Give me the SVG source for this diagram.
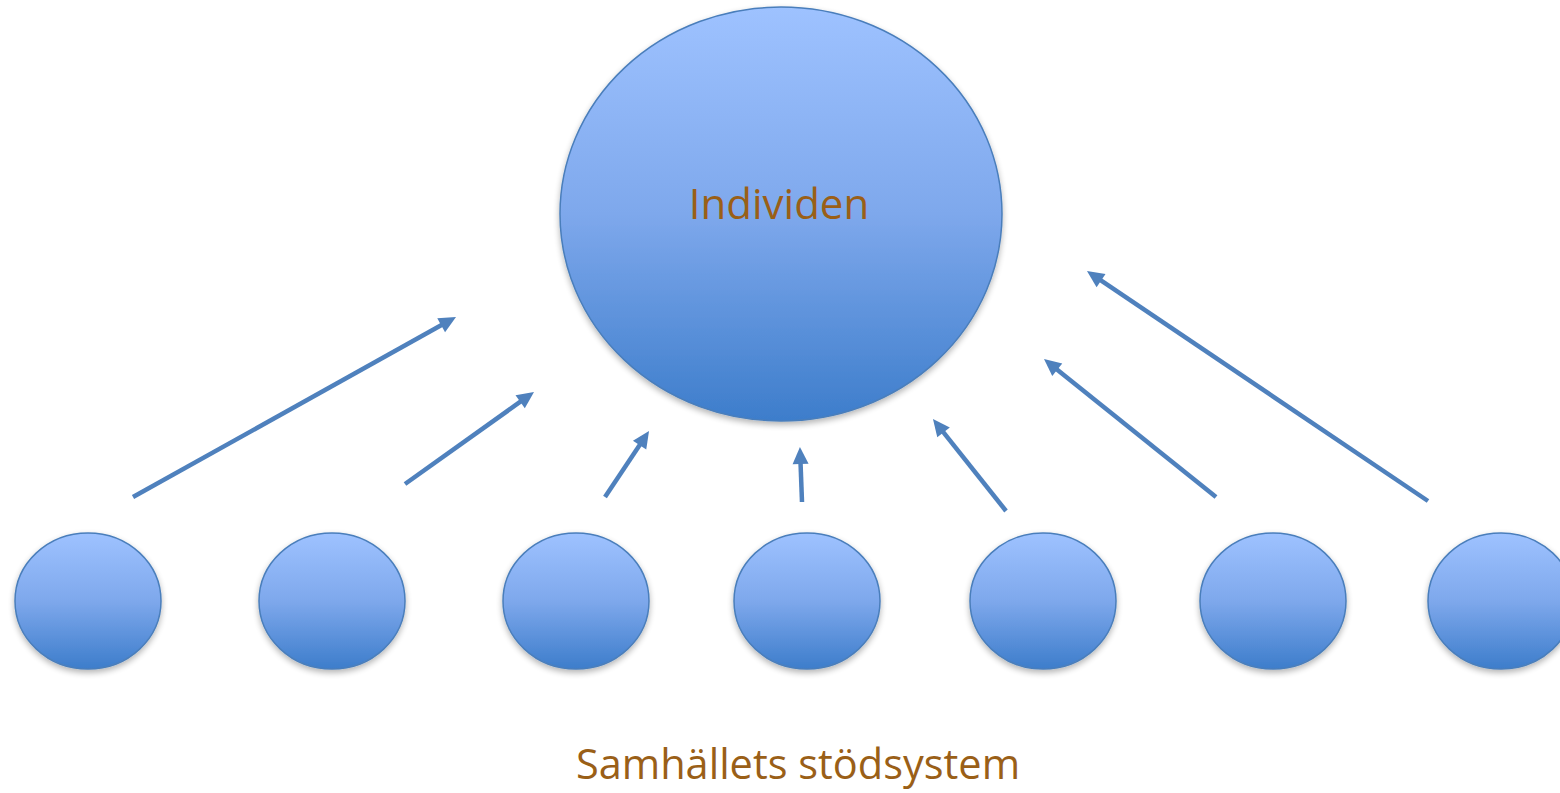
<svg xmlns="http://www.w3.org/2000/svg" width="1560" height="793" viewBox="0 0 1560 793">
<defs>
<linearGradient id="g" x1="0" y1="0" x2="0" y2="1">
<stop offset="0" stop-color="#9ec2ff"/>
<stop offset="0.5" stop-color="#7ea8ec"/>
<stop offset="1" stop-color="#3d7dcb"/>
</linearGradient>
<filter id="sh" x="-10%" y="-10%" width="120%" height="125%">
<feGaussianBlur in="SourceAlpha" stdDeviation="3"/>
<feOffset dx="0" dy="3" result="b"/>
<feComponentTransfer><feFuncA type="linear" slope="0.3"/></feComponentTransfer>
<feMerge><feMergeNode/><feMergeNode in="SourceGraphic"/></feMerge>
</filter>
<marker id="ah" markerUnits="userSpaceOnUse" markerWidth="18" markerHeight="16" refX="2" refY="8" orient="auto" overflow="visible">
<path d="M0,0 L17,8 L0,16 Z" fill="#4f81bd"/>
</marker>
<style>
.n{fill:url(#g);stroke:#4a7ebb;stroke-width:1.5;filter:url(#sh)}
.c{stroke:#4f81bd;stroke-width:4.5;fill:none;marker-end:url(#ah)}
.t{font-family:"Open Sans","Liberation Sans",sans-serif;fill:#9a5f17;text-anchor:middle}
</style>
</defs>
<rect width="1560" height="793" fill="#ffffff"/>
<g id="individen">
<ellipse class="n" cx="781" cy="214" rx="221" ry="207"/>
<text class="t" x="779" y="219" font-size="42">Individen</text>
</g>
<g id="s1"><ellipse class="n" cx="88" cy="601" rx="73" ry="68"/></g>
<g id="s2"><ellipse class="n" cx="332" cy="601" rx="73" ry="68"/></g>
<g id="s3"><ellipse class="n" cx="576" cy="601" rx="73" ry="68"/></g>
<g id="s4"><ellipse class="n" cx="807" cy="601" rx="73" ry="68"/></g>
<g id="s5"><ellipse class="n" cx="1043" cy="601" rx="73" ry="68"/></g>
<g id="s6"><ellipse class="n" cx="1273" cy="601" rx="73" ry="68"/></g>
<g id="s7"><ellipse class="n" cx="1501" cy="601" rx="73" ry="68"/></g>
<g id="connectors">
<line class="c" x1="133" y1="497" x2="442.9" y2="324.3"/>
<line class="c" x1="405" y1="484" x2="521.8" y2="400.7"/>
<line class="c" x1="605" y1="497" x2="640.7" y2="443.5"/>
<line class="c" x1="802" y1="502" x2="800.5" y2="462"/>
<line class="c" x1="1006" y1="511" x2="942.3" y2="430.8"/>
<line class="c" x1="1216" y1="497" x2="1055.7" y2="368.4"/>
<line class="c" x1="1428" y1="501" x2="1099.4" y2="279.4"/>
</g>
<g id="label">
<text class="t" x="798" y="779" font-size="41.5">Samhällets stödsystem</text>
</g>
</svg>
